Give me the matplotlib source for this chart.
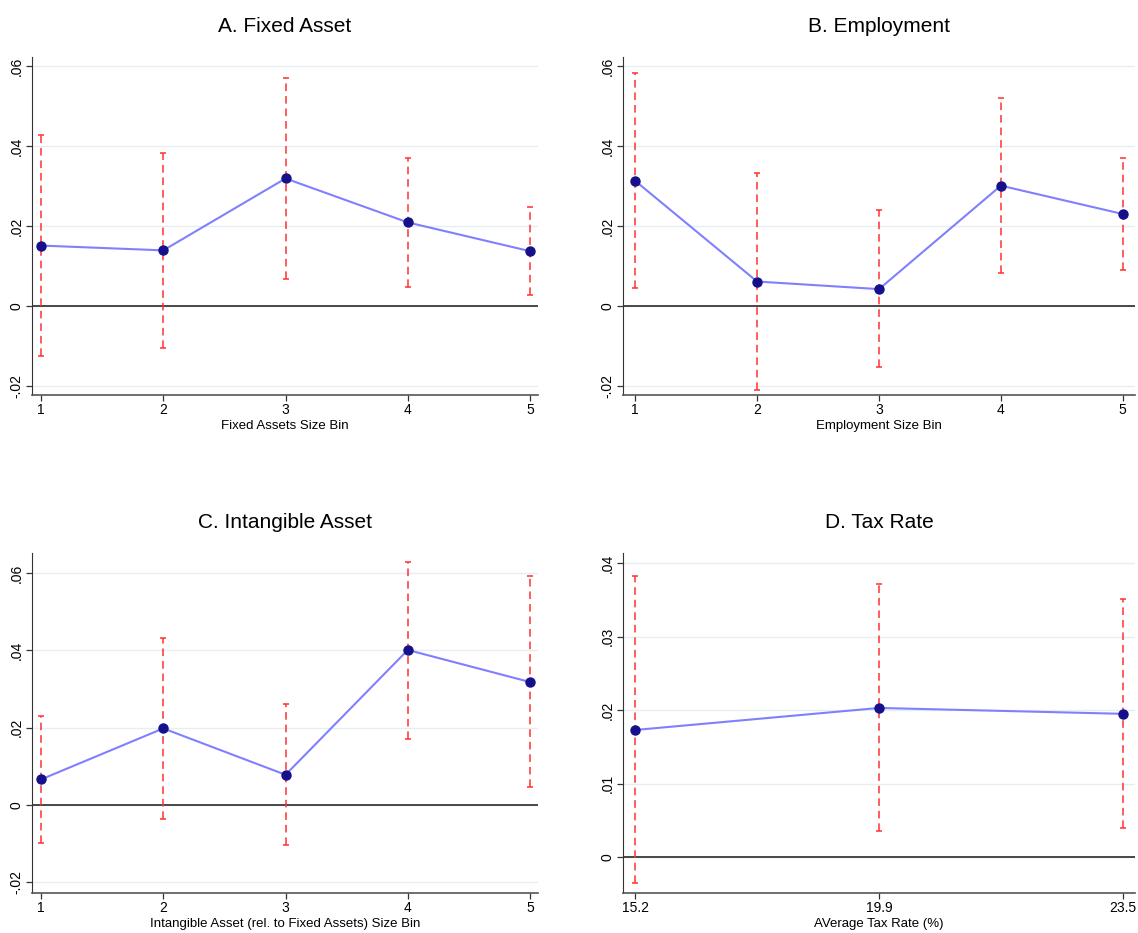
import numpy as np
import matplotlib.pyplot as plt
from matplotlib.ticker import FuncFormatter

plt.rcParams['font.family'] = ['Liberation Sans', 'DejaVu Sans']

# Panel A: fixed asset size bins
fixed_bins = [1, 2, 3, 4, 5]
fixed_coef = [0.0151, 0.0139, 0.0319, 0.0209, 0.0137]
fixed_hi = [0.0429, 0.0382, 0.0570, 0.0371, 0.0247]
fixed_lo = [-0.0126, -0.0106, 0.0067, 0.0047, 0.0027]

# Panel B: employment size bins
emp_bins = [1, 2, 3, 4, 5]
emp_coef = [0.0313, 0.0061, 0.0042, 0.0301, 0.0230]
emp_hi = [0.0583, 0.0332, 0.0240, 0.0520, 0.0371]
emp_lo = [0.0044, -0.0211, -0.0153, 0.0082, 0.0090]

# Panel C: intangible asset size bins
intang_bins = [1, 2, 3, 4, 5]
intang_coef = [0.0066, 0.0198, 0.0078, 0.0401, 0.0318]
intang_hi = [0.0231, 0.0431, 0.0262, 0.0628, 0.0593]
intang_lo = [-0.0099, -0.0037, -0.0105, 0.0171, 0.0046]

# Panel D: average tax rate groups
tax_labels = ['15.2', '19.9', '23.5']
tax_coef = [0.0173, 0.0203, 0.0195]
tax_hi = [0.0383, 0.0372, 0.0351]
tax_lo = [-0.0035, 0.0035, 0.0039]


def stata_fmt(v, pos):
    if abs(v) < 1e-12:
        return '0'
    s = f"{v:.2f}".rstrip('0')
    return s.replace('0.', '.')


def draw_panel(ax, x, coef, lo, hi, title, xlabel, xlim, ylim, yticks, xticklabels=None):
    coef = np.array(coef)
    yerr = np.vstack([coef - np.array(lo), np.array(hi) - coef])
    eb = ax.errorbar(x, coef, yerr=yerr, fmt='none', ecolor='#ff3030', elinewidth=1.1,
                     capsize=2, capthick=1.1, zorder=2)
    eb[2][0].set_linestyle((0, (5, 3.2)))
    ax.plot(x, coef, color='#8080ff', linewidth=1.5, zorder=3)
    ax.plot(x, coef, 'o', color='#16108a', markersize=6.5, zorder=4)
    ax.axhline(0, color='#3a3a3a', linewidth=1.3, zorder=1)
    ax.set_xlim(*xlim)
    ax.set_ylim(*ylim)
    ax.set_yticks(yticks)
    ax.yaxis.set_major_formatter(FuncFormatter(stata_fmt))
    ax.set_xticks(x)
    if xticklabels is not None:
        ax.set_xticklabels(xticklabels)
    ax.grid(axis='y', color='#e6eff0', linewidth=1.0, zorder=0)
    ax.set_axisbelow(True)
    for lab in ax.get_yticklabels():
        lab.set_rotation(90)
        lab.set_va('center')
    ax.tick_params(axis='both', labelsize=10, length=4, width=0.9, color='#333333', pad=2)
    ax.spines['top'].set_visible(False)
    ax.spines['right'].set_visible(False)
    ax.spines['left'].set_color('#333333')
    ax.spines['bottom'].set_color('#555555')
    ax.spines['bottom'].set_linewidth(1.2)
    ax.set_title(title, fontsize=15, pad=18)
    ax.set_xlabel(xlabel, fontsize=9.5, labelpad=2)


fig = plt.figure(figsize=(11.38, 9.33), dpi=100)
W, H = 1138, 933
axA = fig.add_axes([32 / W, 1 - 395 / H, 506 / W, 338 / H])
axB = fig.add_axes([623 / W, 1 - 395 / H, 512 / W, 338 / H])
axC = fig.add_axes([32 / W, 1 - 893 / H, 506 / W, 340 / H])
axD = fig.add_axes([623 / W, 1 - 893 / H, 512 / W, 340 / H])

yt = [-0.02, 0, 0.02, 0.04, 0.06]
draw_panel(axA, fixed_bins, fixed_coef, fixed_lo, fixed_hi, 'A. Fixed Asset',
           'Fixed Assets Size Bin', (0.926, 5.065), (-0.0223, 0.0623), yt)
draw_panel(axB, emp_bins, emp_coef, emp_lo, emp_hi, 'B. Employment',
           'Employment Size Bin', (0.90, 5.10), (-0.0223, 0.0623), yt)
draw_panel(axC, intang_bins, intang_coef, intang_lo, intang_hi, 'C. Intangible Asset',
           'Intangible Asset (rel. to Fixed Assets) Size Bin', (0.926, 5.065),
           (-0.0228, 0.0652), yt)
draw_panel(axD, np.arange(1, len(tax_labels) + 1), tax_coef, tax_lo, tax_hi, 'D. Tax Rate',
           'AVerage Tax Rate (%)', (0.95, 3.05), (-0.0049, 0.0414),
           [0, 0.01, 0.02, 0.03, 0.04], xticklabels=tax_labels)

fig.savefig('out.png', dpi=100, facecolor='white')
